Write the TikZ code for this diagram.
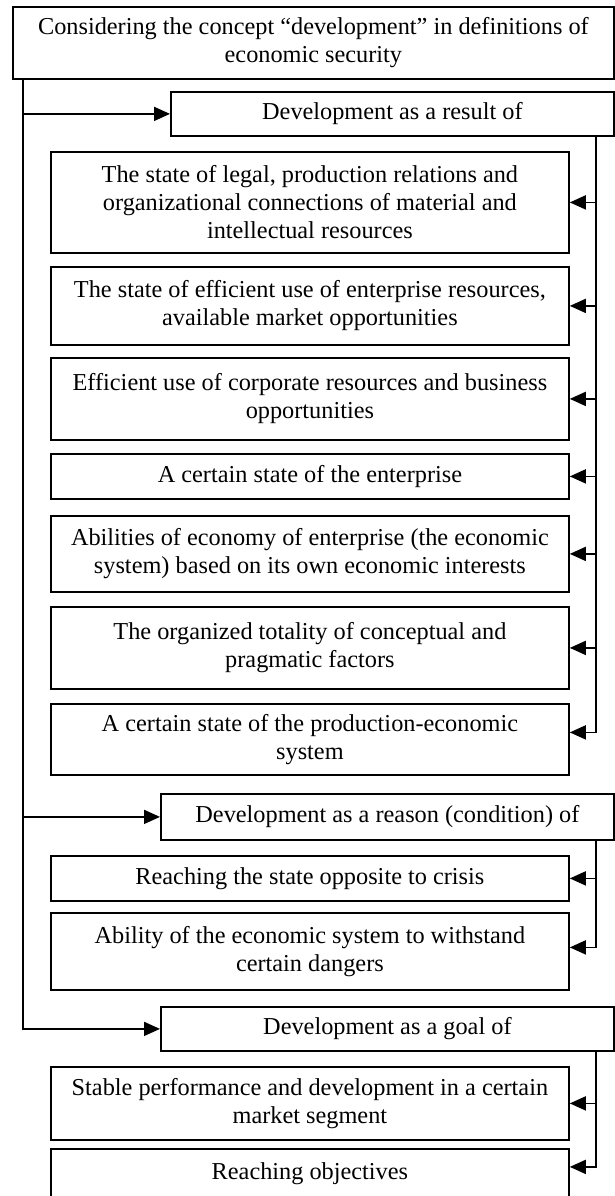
\documentclass[tikz,border=0pt]{standalone}
\usepackage{fontspec}
\setmainfont{Liberation Serif}
\usetikzlibrary{arrows.meta, calc}
\tikzset{box/.style = {draw, line width = 1.8pt, align = center, inner sep = 0pt, anchor = north west, font = \fontsize{24.3}{28}\selectfont}}
\tikzset{child/.style = {box, minimum width = 518pt}}
\tikzset{link/.style = {line width = 1.8pt, -{Triangle[length = 16pt, width = 14pt]}}}

\begin{document}
\begin{tikzpicture}[x = 1pt, y = -1pt]
\useasboundingbox (0,0) rectangle (614,1196);
\node[box, minimum width = 601pt, minimum height = 72pt] (top) at (12,6) {Considering the concept “development” in definitions of\\economic security};
\node[box, minimum width = 443pt, minimum height = 44pt] (res) at (170,91) {Development as a result of};
\node[child, minimum height = 101pt] (c1) at (50,151) {The state of legal, production relations and\\organizational connections of material and\\intellectual resources};
\node[child, minimum height = 78pt] (c2) at (50,266) {The state of efficient use of enterprise resources,\\available market opportunities};
\node[child, minimum height = 82pt] (c3) at (50,357) {Efficient use of corporate resources and business\\opportunities};
\node[child, minimum height = 45pt] (c4) at (50,453) {A certain state of the enterprise};
\node[child, minimum height = 76pt] (c5) at (50,515) {Abilities of economy of enterprise (the economic\\system) based on its own economic interests};
\node[child, minimum height = 82pt] (c6) at (50,606) {The organized totality of conceptual and\\pragmatic factors};
\node[child, minimum height = 71pt] (c7) at (50,703) {A certain state of the production-economic\\system};
\node[box, minimum width = 453pt, minimum height = 46pt] (rea) at (160,793) {Development as a reason (condition) of};
\node[child, minimum height = 45pt] (r1) at (50,855) {Reaching the state opposite to crisis};
\node[child, minimum height = 77pt] (r2) at (50,912) {Ability of the economic system to withstand\\certain dangers};
\node[box, minimum width = 453pt, minimum height = 44pt] (goal) at (160,1006) {Development as a goal of};
\node[child, minimum height = 73pt] (g1) at (50,1066) {Stable performance and development in a certain\\market segment};
\node[child, minimum height = 50pt] (g2) at (50,1148) {Reaching objectives};
\coordinate (trunk) at ([xshift = 11pt]top.south west);
\coordinate (rside) at (596,0);
\draw[link] (trunk) |- (goal.west);
\draw[link] (trunk |- res.west) -- (res.west);
\draw[link] (trunk |- rea.west) -- (rea.west);
\draw[link] (res.south -| rside) |- ([yshift = 7pt]c7.east);
\foreach \n in {c1, c2, c3, c4, c5, c6}
  \draw[link] (rside |- \n.east) -- (\n.east);
\draw[link] (rea.south -| rside) |- ([yshift = 4pt]r2.east);
\draw[link] (rside |- r1.east) -- (r1.east);
\draw[link] (goal.south -| rside) |- ([yshift = 7pt]g2.east);
\draw[link] (rside |- g1.east) -- (g1.east);
\end{tikzpicture}
\end{document}
